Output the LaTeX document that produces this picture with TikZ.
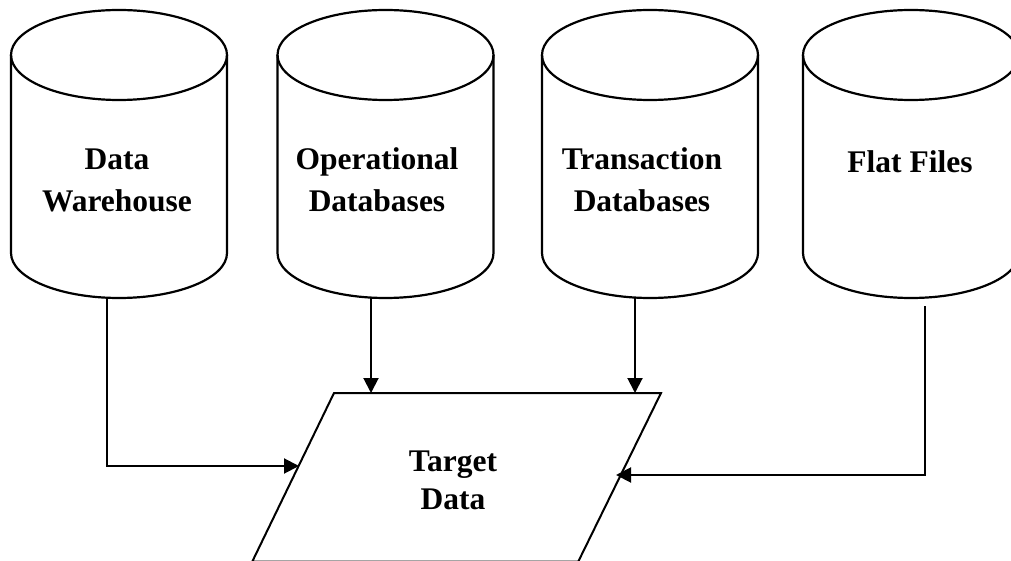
\documentclass[tikz,border=0pt]{standalone}
\usepackage{fontspec}
\setmainfont{Liberation Serif}
\usetikzlibrary{arrows.meta}
\tikzstyle{every node}=[font=\bfseries\fontsize{31.5}{42}\selectfont, align=center, inner sep=0pt]
\tikzstyle{flow}=[line width=2pt, -{Triangle[length=15pt, width=15pt]}]

\begin{document}
\begin{tikzpicture}[x=1pt, y=-1pt, line width=2.2pt]
    \useasboundingbox (0,0) rectangle (1011,561);
% Cylinders
    \draw (119,55) ellipse[x radius=108, y radius=45];
    \draw (11,55) -- (11,253) arc[start angle=180, end angle=0, x radius=108, y radius=45] -- (227,55);
    \draw (385.5,55) ellipse[x radius=108, y radius=45];
    \draw (277.5,55) -- (277.5,253) arc[start angle=180, end angle=0, x radius=108, y radius=45] -- (493.5,55);
    \draw (650,55) ellipse[x radius=108, y radius=45];
    \draw (542,55) -- (542,253) arc[start angle=180, end angle=0, x radius=108, y radius=45] -- (758,55);
    \draw (911,55) ellipse[x radius=108, y radius=45];
    \draw (803,55) -- (803,253) arc[start angle=180, end angle=0, x radius=108, y radius=45] -- (1019,55);
% Source labels
    \node (dw) at (117,180.5) {Data\\Warehouse};
    \node (odb) at (377,180) {Operational\\Databases};
    \node (tdb) at (642,180) {Transaction\\Databases};
    \node (ff) at (910,162) {Flat Files};
% Target data
    \draw[line width=2pt] (334,393) -- (661,393) -- (578.3,561.5) -- (252.3,561.5) -- cycle;
    \node (td) at (453,480) [font=\bfseries\fontsize{31.5}{38}\selectfont] {Target\\Data};
% Connectors
    \coordinate (dw-out) at (107,298);
    \coordinate (td-w) at (299,466);
    \coordinate (odb-out) at (371,298);
    \coordinate (td-n1) at (371,393);
    \coordinate (tdb-out) at (635,298);
    \coordinate (td-n2) at (635,393);
    \coordinate (ff-out) at (925,306);
    \coordinate (td-e) at (616,475);
    \draw[flow] (dw-out) |- (td-w);
    \draw[flow] (odb-out) -- (td-n1);
    \draw[flow] (tdb-out) -- (td-n2);
    \draw[flow] (ff-out) |- (td-e);
\end{tikzpicture}
\end{document}
